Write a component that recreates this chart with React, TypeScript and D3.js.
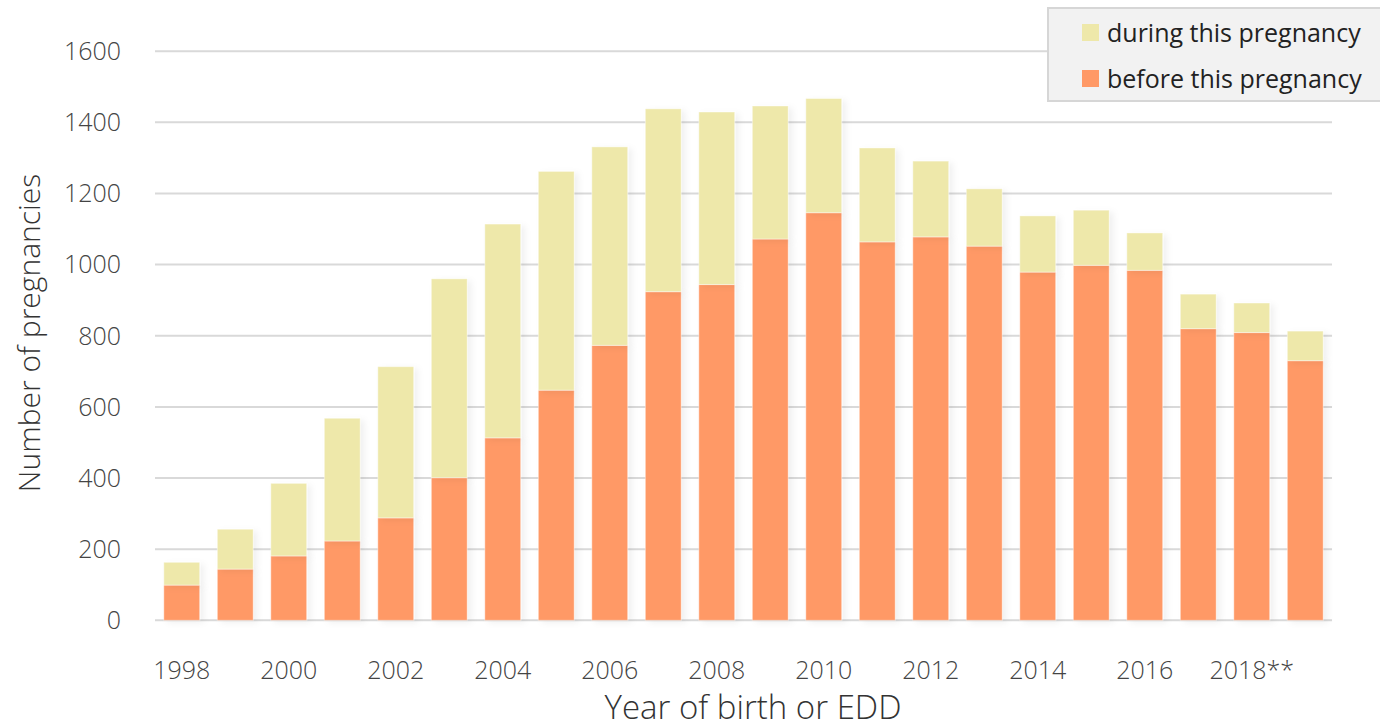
import React from "react";
import * as d3 from "d3";

const years = ["1998","1999","2000","2001","2002","2003","2004","2005","2006","2007","2008","2009","2010","2011","2012","2013","2014","2015","2016","2017","2018","2019"];
const tickLabels: Record<string, string> = {"1998":"1998","2000":"2000","2002":"2002","2004":"2004","2006":"2006","2008":"2008","2010":"2010","2012":"2012","2014":"2014","2016":"2016","2018":"2018**"};
const before = [99,144,181,223,288,401,513,647,773,924,944,1072,1146,1064,1078,1052,979,998,984,820,809,730];
const totals = [163,256,385,568,713,960,1114,1262,1331,1438,1429,1446,1467,1328,1291,1213,1137,1153,1089,917,892,813];
const during = totals.map((t, i) => t - before[i]);
const yTicks = [0,200,400,600,800,1000,1200,1400,1600];
const seriesNames = ["during this pregnancy", "before this pregnancy"];
const colors = { before: "#FF9966", during: "#EEE8AA" };

export default function App() {
  const W = 1380, H = 728;
  const x = d3.scaleBand<string>().domain(years).range([155, 1332]).paddingInner(0.33).paddingOuter(0.165);
  const y = d3.scaleLinear().domain([0, 1600]).range([620.3, 51.2]);
  const font = "'Open Sans', 'Noto Sans', sans-serif";
  const stack = d3.stack<any>().keys(["before", "during"])(years.map((yr, i) => ({ yr, before: before[i], during: during[i] })));
  return (
    <svg width={W} height={H} style={{ position: "absolute", left: 0, top: 0, background: "#fff" }}>
      <defs>
        <filter id="sh" x="-20%" y="-5%" width="150%" height="110%">
          <feDropShadow dx="4" dy="2" stdDeviation="3" floodColor="#000" floodOpacity="0.06" />
        </filter>
      </defs>
      {yTicks.map(t => (
        <g key={t}>
          <line x1={155} x2={1332} y1={y(t)} y2={y(t)} stroke="#d9d9d9" strokeWidth={2} />
          <text x={121} y={y(t)} dy="0.35em" textAnchor="end" fontFamily={font} fontWeight={300} fontSize={25} fill="#444">{t}</text>
        </g>
      ))}
      {stack.map(layer => (
        <g key={layer.key} filter="url(#sh)">
          {layer.map((d, i) => (
            <rect key={i} x={x(years[i])} width={x.bandwidth()} y={y(d[1])} height={y(d[0]) - y(d[1])}
              fill={layer.key === "before" ? colors.before : colors.during} stroke="#fff" strokeOpacity={0.4} strokeWidth={1} />
          ))}
        </g>
      ))}
      {years.filter(yr => tickLabels[yr]).map(yr => (
        <text key={yr} x={(x(yr) as number) + x.bandwidth() / 2} y={679} textAnchor="middle" fontFamily={font} fontWeight={300} fontSize={25} fill="#444">{tickLabels[yr]}</text>
      ))}
      <text x={753} y={719} textAnchor="middle" fontFamily={font} fontWeight={300} fontSize={33} fill="#333">Year of birth or EDD</text>
      <text transform="translate(40,333) rotate(-90)" textAnchor="middle" fontFamily={font} fontWeight={300} fontSize={30} fill="#333">Number of pregnancies</text>
      <g>
        <rect x={1048} y={8} width={335} height={93} fill="#f2f2f2" stroke="#d6d6d6" strokeWidth={2} />
        {seriesNames.map((n, i) => (
          <g key={n}>
            <rect x={1082} y={24 + i * 46} width={17} height={17} fill={i === 0 ? colors.during : colors.before} />
            <text x={1107} y={33 + i * 46} dy="0.35em" fontFamily={font} fontSize={25} fill="#222">{n}</text>
          </g>
        ))}
      </g>
    </svg>
  );
}
